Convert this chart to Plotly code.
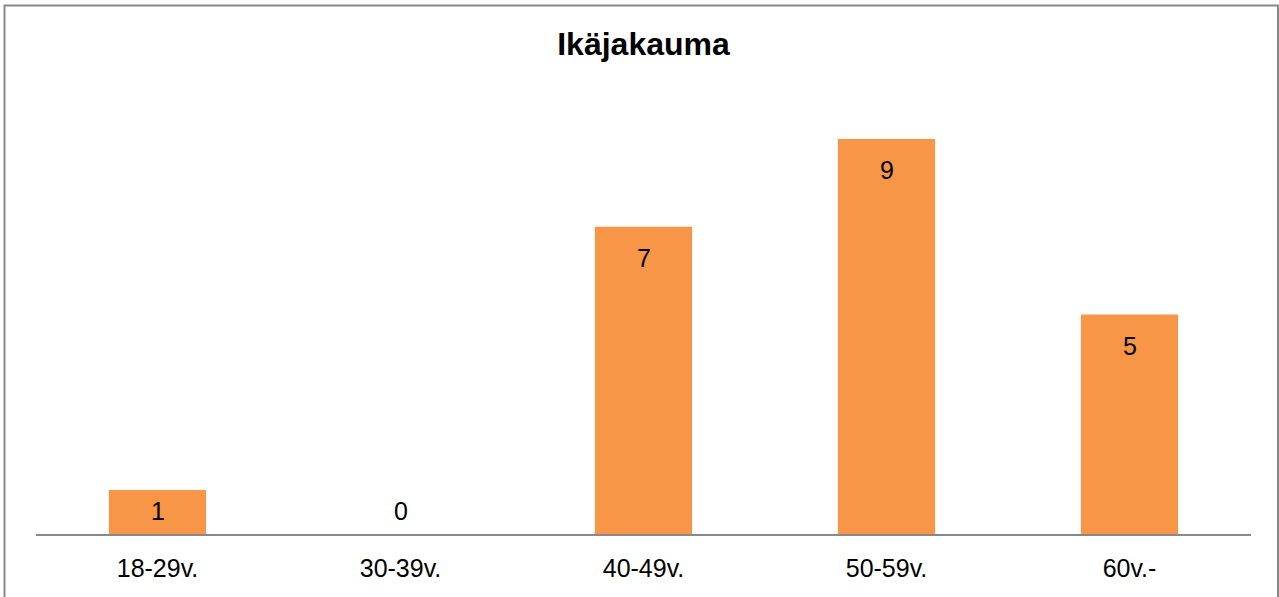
import plotly.graph_objects as go

categories = ["18-29v.", "30-39v.", "40-49v.", "50-59v.", "60v.-"]
values = [1, 0, 7, 9, 5]
title_text = "Ikäjakauma"

W, H = 1279, 597
ml, mr, mt, mb = 36, 28, 95, 63
plot_w = W - ml - mr
plot_h = H - mt - mb
ymax = 10
px_per_unit = plot_h / ymax

bar_color = "#F79646"
line_color = "#898989"
font_family = "Liberation Sans, Arial, sans-serif"

fig = go.Figure()
fig.add_trace(go.Bar(
    x=categories, y=values,
    marker=dict(color=bar_color, line=dict(width=0)),
    hoverinfo="x+y",
))

annotations = []
for c, v in zip(categories, values):
    h = v * px_per_unit
    shift = min(31, h - 23)
    annotations.append(dict(
        x=c, y=v, xref="x", yref="y", text=str(v), showarrow=False,
        yshift=-shift, yanchor="middle",
        font=dict(family=font_family, size=25, color="#000000"),
    ))

# chart border (in paper coords relative to plot area)
bx0 = (4.5 - ml) / plot_w
bx1 = (1278 - ml) / plot_w
by1 = 1 + (mt - 5.5) / plot_h
by0 = -(mb + 20) / plot_h

fig.update_layout(
    width=W, height=H,
    margin=dict(l=ml, r=mr, t=mt, b=mb),
    paper_bgcolor="white", plot_bgcolor="white",
    bargap=0.6,
    showlegend=False,
    title=dict(text="<b>" + title_text + "</b>", x=0.5, xref="paper",
               y=1 - 44 / H, yref="container", yanchor="middle", xanchor="center",
               font=dict(family=font_family, size=32, color="#000000")),
    xaxis=dict(showline=True, linecolor=line_color, linewidth=2, ticks="",
               showgrid=False, zeroline=False, ticklabelstandoff=11,
               tickfont=dict(family=font_family, size=25, color="#000000")),
    yaxis=dict(range=[0, ymax], showticklabels=False, showgrid=False,
               zeroline=False, showline=False),
    annotations=annotations,
    shapes=[dict(type="rect", xref="paper", yref="paper",
                 x0=bx0, x1=bx1, y0=by0, y1=by1,
                 line=dict(color=line_color, width=2), layer="below")],
)

fig.write_html("out.html")
